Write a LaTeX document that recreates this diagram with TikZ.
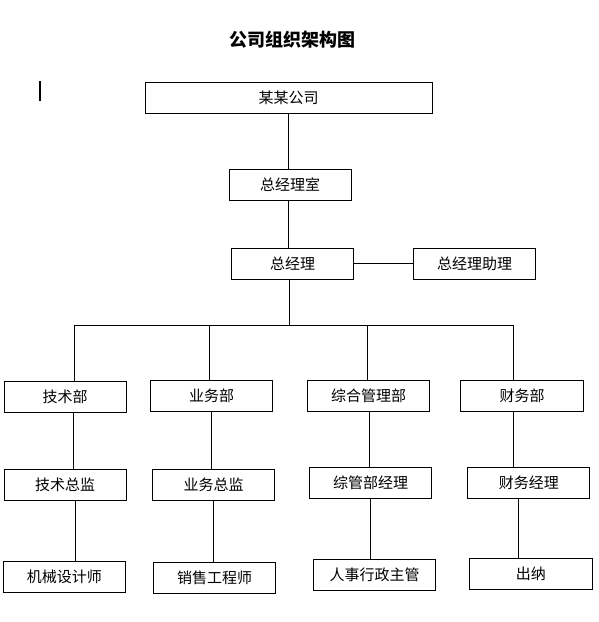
\documentclass[tikz,border=0pt]{standalone}
\usepackage{fontspec}
\newfontfamily\cjk{Noto Sans CJK SC}
\begin{document}
\begin{tikzpicture}[x=1pt,y=-1pt,
  box/.style={draw, line width=0.9pt, minimum height=31pt, inner sep=0pt,
    font=\cjk\fontsize{15}{15}\selectfont},
  conn/.style={line width=0.9pt},
  titlefont/.style={font=\cjk\bfseries\fontsize{18}{18}\selectfont}]
\useasboundingbox (0,0) rectangle (598,622);
\fill[white] (0,0) rectangle (598,622);
% title
\node[titlefont] (title) at (292,40) {公司组织架构图};
% text cursor mark
\coordinate (cur1) at (40,81);
\coordinate (cur2) at (40,101);
\draw[line width=2pt] (cur1) -- (cur2);
% top chain
\node[box, minimum width=287pt] (co) at (288.5,97.8) {某某公司};
\node[box, minimum width=122.5pt] (gms) at (290.2,184.5) {总经理室};
\node[box, minimum width=121.7pt] (gm) at (292.5,263.8) {总经理};
\node[box, minimum width=121.8pt] (asst) at (474.6,263.8) {总经理助理};
% row 1
\node[box, minimum width=122pt] (tech) at (65.2,396.8) {技术部};
\node[box, minimum width=121.7pt] (biz) at (211.6,395.8) {业务部};
\node[box, minimum width=122.2pt] (adm) at (368.7,395.8) {综合管理部};
\node[box, minimum width=122.9pt] (fin) at (522.1,395.8) {财务部};
% row 2
\node[box, minimum width=122pt] (techd) at (65.2,484.8) {技术总监};
\node[box, minimum width=121.7pt] (bizd) at (213.5,484.8) {业务总监};
\node[box, minimum width=122.2pt] (admd) at (370.6,482.8) {综管部经理};
\node[box, minimum width=121.8pt] (find) at (528.8,482.8) {财务经理};
% row 3
\node[box, minimum width=122.2pt] (mech) at (64.5,576.8) {机械设计师};
\node[box, minimum width=122.2pt] (sales) at (214.5,577.8) {销售工程师};
\node[box, minimum width=121.8pt] (hr) at (374.6,574.8) {人事行政主管};
\node[box, minimum width=122.2pt] (cash) at (530.9,573.8) {出纳};
% helper coordinates
\coordinate (top) at (288.5,0);
\coordinate (bus) at (289.7,325.3);
\coordinate (b1) at (74.8,325.3);
\coordinate (b2) at (209.5,325.3);
\coordinate (b3) at (367.6,325.3);
\coordinate (b4) at (513.7,325.3);
\coordinate (c1) at (73.7,0);
\coordinate (c2) at (211.5,0);
\coordinate (c3) at (369.5,0);
\coordinate (c4) at (513.7,0);
\coordinate (e1) at (75.6,0);
\coordinate (e2) at (213.4,0);
\coordinate (e3) at (370.6,0);
\coordinate (e4) at (518,0);
% connectors
\draw[conn] (co.south -| top) -- (gms.north -| top);
\draw[conn] (gms.south -| top) -- (gm.north -| top);
\draw[conn] (gm.east) -- (asst.west);
\draw[conn] (gm.south -| bus) -- (bus);
\draw[conn] (b1) -- (b4);
\draw[conn] (b1) -- (tech.north -| b1);
\draw[conn] (b2) -- (biz.north -| b2);
\draw[conn] (b3) -- (adm.north -| b3);
\draw[conn] (b4) -- (fin.north -| b4);
\draw[conn] (tech.south -| c1) -- (techd.north -| c1);
\draw[conn] (biz.south -| c2) -- (bizd.north -| c2);
\draw[conn] (adm.south -| c3) -- (admd.north -| c3);
\draw[conn] (fin.south -| c4) -- (find.north -| c4);
\draw[conn] (techd.south -| e1) -- (mech.north -| e1);
\draw[conn] (bizd.south -| e2) -- (sales.north -| e2);
\draw[conn] (admd.south -| e3) -- (hr.north -| e3);
\draw[conn] (find.south -| e4) -- (cash.north -| e4);
\end{tikzpicture}
\end{document}
